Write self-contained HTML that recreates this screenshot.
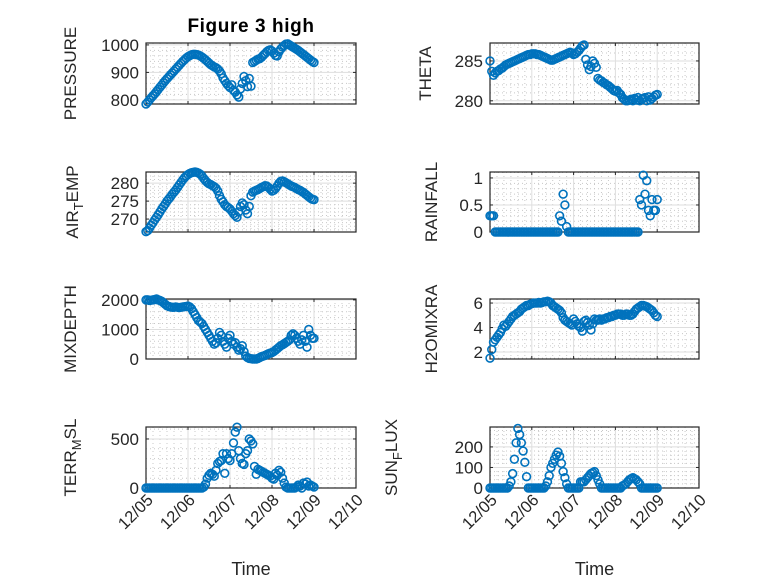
<!DOCTYPE html>
<html><head><meta charset="utf-8">
<style>
body{margin:0;background:#fff;}
svg{display:block;font-family:"Liberation Sans","DejaVu Sans",sans-serif;}
</style></head>
<body>
<svg id="fig" width="778" height="583" viewBox="0 0 778 583">
<rect width="778" height="583" fill="#fff"/>
<text x="251" y="32" text-anchor="middle" font-size="19" font-weight="bold" letter-spacing="0.6" fill="#000">Figure 3 high</text>
</svg>
<script>
// time axis: hourly samples starting 12/05 00:00
const dayTicks = ['12/05','12/06','12/07','12/08','12/09','12/10'];
const pressure = [785,792,800,808,815,822,830,838,846,854,862,870,877,884,891,898,905,912,919,926,933,940,946,952,957,961,964,966,966,965,963,960,956,951,946,940,934,928,924,920,917,912,905,895,880,870,860,852,845,855,835,828,818,810,840,860,885,870,848,878,850,936,940,944,948,950,955,962,968,975,980,982,978,970,962,960,975,985,992,998,1003,1004,1000,996,992,988,984,980,975,970,965,960,955,950,945,940,936];
const airTemp = [266.5,266.8,267.5,268.3,269,269.8,270.5,271.2,272,272.8,273.5,274.2,275,275.6,276.2,276.9,277.5,278.1,278.8,279.5,280.2,280.9,281.5,282,282.4,282.7,282.9,283,283.1,283,282.8,282.5,282,281.3,280.7,280.2,279.8,279.6,279.3,279,278.6,277.8,276.5,275.5,274.8,274,273.5,273.2,272.8,272.2,271.5,271,270.5,272,273.5,274.5,274,272.5,271.5,273.5,276.5,277.5,277.8,278,278.2,278.5,278.8,279,279.3,279.2,278.8,278.3,277.8,278,278.5,279.2,280,280.5,280.6,280.4,280.1,279.8,279.5,279.2,279,278.8,278.5,278.2,278,277.7,277.4,277,276.6,276.2,275.8,275.5,275.4];
const theta = [285,283.7,283.2,283.5,283.7,283.8,284,284.1,284.3,284.5,284.6,284.7,284.8,284.9,285,285.1,285.2,285.3,285.4,285.5,285.6,285.7,285.8,285.8,285.9,285.9,285.9,285.8,285.8,285.7,285.6,285.5,285.4,285.3,285.2,285.1,285.1,285.2,285.3,285.4,285.5,285.6,285.7,285.8,285.9,286,286.1,286,285.8,285.9,286.1,286.3,286.6,286.9,287,285.2,284.5,283.9,284.3,285,284.7,284.2,282.8,282.6,282.5,282.3,282.2,282,281.9,281.7,281.5,281.3,281.2,281.3,281,280.8,280.4,280.2,280,280,280.1,280.2,280,280.3,280.1,280.4,280,280.2,280.3,280.4,280,280.5,280.1,280.3,280.5,280.7,280.8];
const rainfall = [0.3,0.3,0.3,0,0,0,0,0,0,0,0,0,0,0,0,0,0,0,0,0,0,0,0,0,0,0,0,0,0,0,0,0,0,0,0,0,0,0,0,0,0.3,0.2,0.7,0.5,0.1,0,0,0,0,0,0,0,0,0,0,0,0,0,0,0,0,0,0,0,0,0,0,0,0,0,0,0,0,0,0,0,0,0,0,0,0,0,0,0,0,0,0.6,0.5,1.05,0.7,0.95,0.4,0.3,0.6,0.4,0.4,0.6];
const mixDepth = [2000,2000,1980,1990,2000,2010,2030,2000,1980,1950,1900,1850,1800,1780,1760,1750,1750,1760,1750,1740,1750,1760,1770,1780,1790,1760,1700,1600,1500,1400,1300,1250,1200,1100,1000,900,800,700,600,500,550,700,900,800,600,500,400,700,800,600,500,550,400,300,350,450,250,100,50,20,10,0,0,0,20,50,80,100,120,150,180,200,220,250,300,350,400,450,480,520,560,600,650,800,850,800,700,600,500,650,800,600,400,1000,800,700,700];
const h2oMix = [1.5,2.2,2.8,3.0,3.2,3.4,3.6,3.9,4.2,4.1,4.3,4.5,4.7,4.9,5.0,5.1,5.2,5.3,5.5,5.6,5.7,5.8,5.8,5.9,5.95,6.0,6.0,6.0,6.05,6.0,6.05,6.1,6.1,6.15,6.1,6.0,5.8,5.7,5.6,5.5,5.4,5.2,4.8,4.6,4.5,4.4,4.3,4.2,4.7,4.5,4.3,4.1,4.0,3.7,4.5,4.6,4.4,4.2,3.8,4.3,4.7,4.6,4.6,4.7,4.6,4.7,4.7,4.8,4.8,4.9,4.9,5.0,5.0,5.1,5.1,5.1,5.0,5.0,5.1,5.1,5.0,5.0,5.1,5.3,5.5,5.6,5.7,5.8,5.8,5.75,5.7,5.6,5.5,5.4,5.2,5.0,4.9];
const terrMsl = [0,0,0,0,0,0,0,0,0,0,0,0,0,0,0,0,0,0,0,0,0,0,0,0,0,0,0,0,0,0,0,0,0,10,40,100,130,150,140,120,180,250,270,280,350,150,350,300,280,350,460,570,620,380,300,250,240,350,380,500,480,450,220,140,190,180,170,160,150,140,130,120,100,90,150,130,180,160,100,50,10,0,0,0,0,0,10,30,20,0,50,40,60,20,30,20,10];
const sunFlux = [0,0,0,0,0,0,0,0,0,0,0,10,30,70,140,220,290,260,220,180,125,55,0,0,0,0,0,0,0,0,0,0,10,30,60,100,120,140,160,175,155,120,80,50,20,0,0,0,0,0,0,0,30,30,30,40,50,60,70,75,80,60,40,20,0,0,0,0,0,0,0,0,0,0,0,0,10,15,20,30,40,45,50,45,40,30,20,0,0,0,0,0,0,0,0,0,0];

const pressureTicks=[800,900,1000], airTicks=[270,275,280], thetaTicks=[280,285], rainTicks=[0,0.5,1], mixTicks=[0,1000,2000], h2oTicks=[2,4,6], terrTicks=[0,500], sunTicks=[0,100,200];

const NS='http://www.w3.org/2000/svg';
const svg=document.getElementById('fig');
function mk(tag,attrs,parent){const e=document.createElementNS(NS,tag);for(const k in attrs)e.setAttribute(k,attrs[k]);(parent||svg).appendChild(e);return e;}

const cols=[[146,356],[490,699]];
const rows=[[43,104],[172,232],[299,359],[427,488]];
const panels=[
 {key:'pressure',data:pressure,ticks:pressureTicks,lim:[785,1007],minor:20,col:0,row:0,label:['PRESSURE']},
 {key:'theta',data:theta,ticks:thetaTicks,lim:[279.6,287.25],minor:1,col:1,row:0,label:['THETA']},
 {key:'air-temp',data:airTemp,ticks:airTicks,lim:[266.4,283.1],minor:1,col:0,row:1,label:['AIR','T','EMP']},
 {key:'rainfall',data:rainfall,ticks:rainTicks,lim:[0,1.11],minor:0.1,col:1,row:1,label:['RAINFALL']},
 {key:'mixdepth',data:mixDepth,ticks:mixTicks,lim:[0,2030],minor:200,col:0,row:2,label:['MIXDEPTH']},
 {key:'h2omixra',data:h2oMix,ticks:h2oTicks,lim:[1.43,6.33],minor:0.5,col:1,row:2,label:['H2OMIXRA']},
 {key:'terr-msl',data:terrMsl,ticks:terrTicks,lim:[0,622],minor:100,col:0,row:3,label:['TERR','M','SL']},
 {key:'sun-flux',data:sunFlux,ticks:sunTicks,lim:[0,297],minor:20,col:1,row:3,label:['SUN','F','LUX']}
];
const labelOff={pressure:70,theta:59,'air-temp':68,rainfall:53,mixdepth:70,h2omixra:53,'terr-msl':70,'sun-flux':93};

panels.forEach(p=>{
 const [x0,x1]=cols[p.col],[y0,y1]=rows[p.row];
 const xs=h=>x0+h/120*(x1-x0);
 const ys=v=>y1-(v-p.lim[0])/(p.lim[1]-p.lim[0])*(y1-y0);
 const g=mk('g',{});
 
 
 for(let h=4;h<120;h+=4){if(h%24===0)continue;const X=xs(h);mk('line',{x1:X,x2:X,y1:y0,y2:y1,stroke:'#c8c8c8','stroke-width':1,'stroke-dasharray':'1 3'},g);}
 const a=Math.ceil(p.lim[0]/p.minor);
 for(let k=a;k*p.minor<=p.lim[1];k++){const v=k*p.minor;if(p.ticks.some(t=>Math.abs(t-v)<1e-9))continue;const Y=ys(v);mk('line',{x1:x0,x2:x1,y1:Y,y2:Y,stroke:'#c8c8c8','stroke-width':1,'stroke-dasharray':'1 3'},g);}
 dayTicks.forEach((d,i)=>{const X=xs(i*24);mk('line',{x1:X,x2:X,y1:y0,y2:y1,stroke:'#dedede','stroke-width':1},g);});
 p.ticks.forEach(t=>{const Y=ys(t);mk('line',{x1:x0,x2:x1,y1:Y,y2:Y,stroke:'#dedede','stroke-width':1},g);});
 mk('rect',{x:x0,y:y0,width:x1-x0,height:y1-y0,fill:'none',stroke:'#262626','stroke-width':1.2},g);
 dayTicks.forEach((d,i)=>{const X=xs(i*24);mk('line',{x1:X,x2:X,y1:y1,y2:y1-3,stroke:'#262626'},g);mk('line',{x1:X,x2:X,y1:y0,y2:y0+3,stroke:'#262626'},g);});
 p.ticks.forEach(t=>{const Y=ys(t);mk('line',{x1:x0,x2:x0+3,y1:Y,y2:Y,stroke:'#262626'},g);mk('line',{x1:x1,x2:x1-3,y1:Y,y2:Y,stroke:'#262626'},g);
  const tl=mk('text',{x:x0-7,y:Y+6,'text-anchor':'end','font-size':17,fill:'#262626'},g);tl.textContent=String(t);
  
  });
 const cy=(y0+y1)/2;
 const lab=mk('text',{x:0,y:0,'text-anchor':'middle','font-size':17,fill:'#262626'},g);
 
 
 lab.setAttribute('transform',`translate(${x0-labelOff[p.key]},${cy}) rotate(-90)`);
 if(p.label.length===1){lab.textContent=p.label[0];}
 else{const t1=mk('tspan',{},lab);t1.textContent=p.label[0];const t2=mk('tspan',{'font-size':13,dy:5},lab);t2.textContent=p.label[1];const t3=mk('tspan',{dy:-5},lab);t3.textContent=p.label[2];}
 p.data.forEach((v,h)=>{const c=mk('circle',{cx:xs(h),cy:ys(v),r:3.9,fill:'none',stroke:'#0072BD','stroke-width':1.6},g);
  
  });
 if(p.row===3){
  dayTicks.forEach((d,i)=>{const X=xs(i*24);const t=mk('text',{x:0,y:0,'text-anchor':'end','font-size':16.5,fill:'#262626',transform:`translate(${X+8},${y1+13}) rotate(-45)`},g);t.textContent=d;
   
   });
  const xt=mk('text',{x:(x0+x1)/2,y:575,'text-anchor':'middle','font-size':18,fill:'#262626'},g);xt.textContent='Time';
  
  
 }
});
</script>
</body></html>
